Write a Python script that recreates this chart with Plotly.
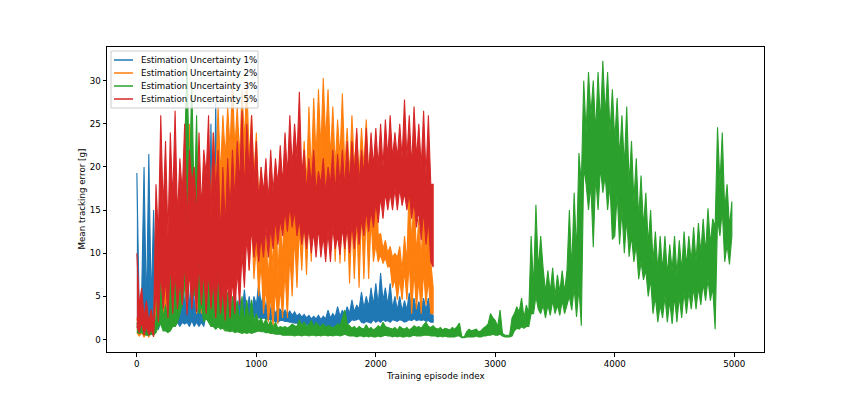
import plotly.graph_objects as go

# Training episodes are summarised in bins of 20 episodes: for every bin the
# lowest and highest mean tracking error.
BIN = 20
bins_2500 = list(range(0, 2500, BIN))
bins_5000 = list(range(0, 5000, BIN))

series_names = ["Estimation Uncertainty 1%", "Estimation Uncertainty 2%",
                "Estimation Uncertainty 3%", "Estimation Uncertainty 5%"]
colors = ["#1f77b4", "#ff7f0e", "#2ca02c", "#d62728"]

# ---- 1 % ----
hi_1pct = [19.3, 3, 5, 20, 3, 21.5, 4, 15, 3, 8,
           3, 12, 3, 9, 3, 14, 3, 7, 3, 11,
           3, 9, 3, 11, 3, 8, 3, 13, 3, 9,
           4, 25, 6, 27.5, 5, 12, 4, 6, 3, 5,
           3, 5.8, 3, 5, 3, 5.8, 3, 5, 3, 5,
           4, 6.5, 4, 5.5, 3.5, 5, 3.3, 4, 3, 3.6,
           3.5, 3, 3.4, 2.9, 3.3, 2.8, 3.2, 2.7, 3, 2.6,
           2.9, 2.5, 2.8, 2.4, 2.7, 2.4, 2.8, 2.3, 2.7, 2.4,
           3.4, 2.5, 3, 2.6, 3.8, 2.7, 3.4, 2.8, 3.8, 3,
           4.6, 3.2, 4, 3.5, 5.5, 3.6, 5, 3.8, 6, 4,
           6.5, 4, 7.7, 4.5, 6, 4, 6.5, 3.6, 5, 3.4,
           5, 3.3, 4.5, 3.4, 5.4, 3.5, 4.8, 3.4, 4.4, 3.5,
           4.8, 3.4, 4.8, 3, 2.8]
lo_1pct = [1.5, 1, 0.8, 1, 1.5, 2, 2, 1.5, 1.5, 1.2,
           2, 1.5, 2, 1.5, 1.8, 2.2, 1.5, 2, 1.5, 2,
           1.8, 2, 1.5, 2.2, 1.5, 2, 1.5, 2, 1.5, 3,
           2, 3, 4, 3, 2, 2, 1.8, 1.5, 1.5, 2,
           1.6, 2, 1.8, 2, 1.8, 2, 1.8, 2, 2, 2.5,
           3, 2.5, 2.4, 2.5, 2.4, 2.3, 2.3, 2.2, 2.1, 2,
           2.2, 2.2, 2.1, 2.1, 2, 2, 1.9, 1.9, 1.8, 1.8,
           1.7, 1.7, 1.6, 1.6, 1.5, 1.5, 1.5, 1.4, 1.4, 1.4,
           1.4, 1.5, 1.4, 1.5, 1.6, 1.5, 1.6, 1.5, 1.8, 2,
           2.3, 2.2, 2.3, 2.4, 2, 1.9, 2.1, 2, 1.9, 2.3,
           2, 2.2, 2, 2.3, 2.1, 2.2, 2, 2.3, 2.2, 2.1,
           2.3, 2.2, 2, 2.1, 2.3, 2.2, 2.4, 2.2, 2.3, 2.2,
           2.3, 2.1, 2.2, 2, 2]

# ---- 2 % ----
hi_2pct = [2.5, 1.2, 2.5, 1, 2, 0.8, 2.5, 1, 12, 6,
           16, 8, 14, 7, 18, 9, 13.5, 8, 20, 10,
           17, 9, 25, 11, 15, 9, 19, 10, 14, 11,
           21, 15, 24, 18, 27, 19, 26, 21, 27, 22,
           30, 22, 27, 21, 29, 23, 30, 21, 26, 19,
           24, 16, 20, 10, 12, 7, 13, 8, 20, 7,
           14, 9, 21, 12, 23, 14, 22, 16, 25, 17,
           23, 18, 27, 19, 28, 21, 29, 22, 30.3, 23,
           29, 21, 27, 20, 25.5, 21, 28.5, 20, 24.5, 19,
           26, 20, 24, 19, 24.5, 20, 25.5, 19, 22, 17,
           20, 12, 12.3, 10.5, 11.5, 10, 10.8, 9.5, 10, 9.5,
           10.8, 8, 12, 9, 18.5, 11, 17, 10, 14, 9,
           17, 10, 18, 9, 6]
lo_2pct = [0.8, 0.4, 0.8, 0.3, 0.7, 0.3, 0.8, 0.5, 4, 1.5,
           6, 2, 5, 2, 7, 3, 6, 3, 8, 4,
           7, 3.5, 9, 5, 7, 3, 6, 3, 8, 5,
           11, 7, 13, 9, 14, 9, 16, 11, 15, 10,
           17, 10, 16, 9.5, 17, 11, 16, 8, 14, 7,
           11, 5, 9, 3, 6, 2, 5, 1.5, 6, 1.8,
           6, 2.5, 8, 2.5, 10, 5, 12, 6, 13, 8,
           14, 7.5, 15, 9, 17, 11, 18, 12, 19, 13,
           18, 12, 17, 9, 16, 8.8, 16, 9, 15, 6.5,
           14, 7, 14, 6, 15, 7, 15, 7, 14, 9,
           11, 9, 9.8, 8.8, 9.5, 8.4, 8.5, 6, 7, 4.6,
           7, 4.6, 8, 4.6, 9, 3, 8, 3.5, 7, 3,
           8, 4, 7, 3, 3]

# ---- 3 % ----
hi_3pct = [1.9, 1.2, 1.9, 1.1, 1.2, 2.5, 1.2, 3, 1.5, 7.7,
           6, 2.5, 4, 2, 7.5, 3, 7, 4, 10, 15,
           22, 32, 18, 30, 15, 26, 10, 15, 6, 9,
           12, 4, 6, 3, 8, 3, 5.5, 2.5, 5.5, 2.5,
           5, 2.5, 4.5, 2, 5, 2, 4.6, 2, 4.6, 2,
           3, 2, 2.5, 1.7, 2.4, 1.6, 2.2, 1.4, 2, 1.3,
           1.5, 1.4, 1.5, 1.3, 1.5, 1.8, 1.6, 1.5, 2.3, 1.6,
           2, 1.5, 1.7, 2.2, 1.4, 2, 1.6, 1.5, 1.8, 1.4,
           1.6, 1.5, 1.3, 1.5, 1.8, 1.6, 2.4, 3.4, 1.8, 1.6,
           1.3, 1.5, 1.2, 1.5, 1.3, 1.2, 1.7, 1.2, 1.4, 1.1,
           1.3, 1.6, 1.4, 2, 1.5, 1.4, 1.3, 1.2, 1.4, 1.1,
           1.5, 1.3, 1.2, 1.4, 1.1, 1.3, 1.6, 1.4, 1.5, 1.3,
           1.7, 2, 1.5, 1.4, 1.6, 1.3, 1.2, 1.4, 1.1, 1.3,
           1.2, 1.1, 1.4, 1.2, 1.5, 1.9, 0.3, 0.3, 0.9, 1.2,
           1, 1.1, 1.2, 0.9, 1, 1.3, 1.5, 1.8, 3, 2.5,
           2.2, 1.5, 3.4, 0.7, 0.5, 0.5, 0.5, 2.5, 3, 3.8,
           3.2, 4.8, 2.5, 4, 3, 12, 6, 15.6, 8, 12,
           8.3, 5.5, 8, 5.5, 8.3, 5, 7.5, 5.5, 8, 5.5,
           8, 15, 8, 17, 10, 21.6, 18, 30, 24, 31,
           26, 30, 24, 31, 25, 32.3, 26, 31, 24, 29,
           23, 28, 21, 26, 20, 27, 18, 23, 16, 21,
           14, 19, 13, 17, 11, 15, 9, 12.5, 8, 12,
           8, 12, 7.5, 11, 8, 12, 7.5, 11.5, 8, 12.5,
           8.5, 12, 9, 13, 9, 13.5, 10, 14, 10, 15.2,
           11, 14, 13, 24.6, 18, 24, 15, 18, 13, 16]
lo_3pct = [0.8, 0.7, 0.8, 0.6, 0.5, 0.5, 0.6, 0.5, 0.8, 1.5,
           1.8, 1, 1, 0.8, 1, 1.5, 1.5, 2, 3, 4,
           6, 12, 8, 10, 5, 8, 3, 4, 2, 2.5,
           2, 1.5, 1.5, 1.2, 1.5, 1.2, 1.3, 1, 1, 0.9,
           1, 0.8, 0.9, 0.8, 0.7, 0.8, 0.7, 0.8, 0.7, 0.8,
           0.9, 1, 0.9, 0.9, 0.8, 0.8, 0.7, 0.7, 0.6, 0.6,
           0.6, 0.5, 0.5, 0.5, 0.5, 0.5, 0.4, 0.5, 0.5, 0.4,
           0.5, 0.5, 0.4, 0.5, 0.5, 0.4, 0.5, 0.4, 0.5, 0.5,
           0.4, 0.5, 0.4, 0.5, 0.5, 0.4, 0.5, 0.6, 0.5, 0.4,
           0.4, 0.4, 0.3, 0.4, 0.4, 0.3, 0.4, 0.3, 0.4, 0.3,
           0.3, 0.4, 0.3, 0.4, 0.5, 0.4, 0.4, 0.3, 0.4, 0.3,
           0.4, 0.3, 0.3, 0.4, 0.3, 0.4, 0.5, 0.4, 0.4, 0.4,
           0.5, 0.5, 0.5, 0.4, 0.4, 0.4, 0.3, 0.4, 0.3, 0.4,
           0.3, 0.3, 0.3, 0.3, 0.4, 0.4, 0.2, 0.2, 0.3, 0.3,
           0.3, 0.3, 0.4, 0.3, 0.3, 0.4, 0.4, 0.5, 0.5, 0.6,
           0.5, 0.5, 0.6, 0.4, 0.3, 0.3, 0.3, 0.4, 1, 1.3,
           1.2, 1.5, 1.3, 1.5, 1.5, 3, 3, 5, 3.5, 3,
           4, 2.5, 4, 2.8, 4.5, 3, 4, 2.8, 4.5, 3,
           4, 5, 3.4, 6, 2.6, 6, 1.6, 20, 18, 15,
           18, 10.7, 19, 15, 20, 17, 19, 15, 18, 11.6,
           12, 17, 11, 15, 10, 14, 9.6, 12, 9, 11,
           7, 9, 6.9, 8, 5, 7, 3, 5, 2, 4,
           2.5, 5, 2, 4.5, 1.8, 5, 2, 5, 2.5, 5.5,
           3, 5.5, 3.5, 6, 3.5, 6, 4, 6.5, 4.5, 7,
           4.5, 6, 1.2, 14, 12, 15, 9, 11, 8.7, 12]

# ---- 5 % ----
hi_5pct = [10, 4, 6, 2.5, 4.5, 2, 3.5, 1.5, 18, 12,
           26, 15, 23, 12, 24, 16, 26.5, 14, 21, 17,
           25, 13, 22, 18, 20, 14, 24, 15, 22, 19,
           26, 14, 24, 17, 22, 12, 20, 13, 21, 15,
           22, 16, 23, 18, 26.5, 17, 25, 19, 26, 18,
           23, 16, 20, 17, 21, 16, 22, 17, 21, 18,
           22.5, 18, 24, 19, 26, 20, 25, 21, 28.7, 19,
           22, 17, 21, 18, 22, 17, 19.5, 18, 21, 17,
           20, 18, 22, 17, 21.5, 18, 22, 17.5, 23, 18,
           23, 19, 24.5, 18, 22, 19, 24.5, 19, 24, 20,
           24.5, 20, 25, 20, 25.5, 21, 26, 21, 24, 21,
           25, 21, 27.8, 21, 26, 20, 27, 21, 25, 20,
           26.5, 19, 26, 18, 18]
lo_5pct = [1.5, 0.8, 2, 0.5, 1.5, 0.5, 1.2, 0.3, 6, 2,
           8, 3.5, 7, 2.5, 9, 3, 8, 3.5, 7, 4,
           9, 2.8, 8, 3.5, 7, 3.2, 9, 4, 8, 3,
           8, 3.5, 7, 2.5, 8, 3, 6, 2.2, 7, 2.5,
           7, 3, 8, 4, 10, 6, 12, 8, 13, 9.5,
           12, 9, 12, 9.5, 13, 9.5, 13, 10.5, 14, 11,
           14, 12, 15, 12.5, 15.5, 13, 15, 12, 14, 11,
           13, 10.5, 13, 10, 12.5, 9.5, 13, 9.5, 12, 9,
           12.5, 9, 13, 10.5, 12, 9.8, 13, 10.5, 13, 10,
           13.5, 10.5, 14, 11, 14, 12, 15, 12.5, 15, 13,
           16, 13.5, 16.5, 14, 17, 15, 17, 15, 17.5, 15,
           17.5, 15.5, 17, 15, 17, 14, 16, 13, 15, 11.5,
           15, 11, 14, 9, 8.4]

x_ticks = [0, 1000, 2000, 3000, 4000, 5000]
y_ticks = [0, 5, 10, 15, 20, 25, 30]

for b, h, l in [(bins_2500, hi_1pct, lo_1pct), (bins_2500, hi_2pct, lo_2pct),
                (bins_5000, hi_3pct, lo_3pct), (bins_2500, hi_5pct, lo_5pct)]:
    assert len(b) == len(h) == len(l), (len(b), len(h), len(l))


FONT = "DejaVu Sans"
FS = 8.7

fig = go.Figure()
data = [(bins_2500, hi_1pct, lo_1pct), (bins_2500, hi_2pct, lo_2pct),
        (bins_5000, hi_3pct, lo_3pct), (bins_2500, hi_5pct, lo_5pct)]
for (b, h, l), name, c in zip(data, series_names, colors):
    # The dense, noisy training curve fills the band between the per-bin
    # minimum and maximum; draw it as that band with its ragged outline.
    xs = list(b) + list(b)[::-1]
    ys = list(h) + list(l)[::-1]
    fig.add_trace(go.Scatter(x=xs, y=ys, mode="lines", name=name,
                             fill="toself", fillcolor=c,
                             line=dict(color=c, width=1.1, simplify=False),
                             showlegend=False, hoverinfo="skip"))

axis_common = dict(showline=True, mirror=True, linecolor="black", linewidth=1,
                   ticks="outside", ticklen=3.5, tickwidth=1, tickcolor="black",
                   showgrid=False, zeroline=False,
                   tickfont=dict(family=FONT, size=FS, color="black"))
fig.update_xaxes(range=[-250, 5249], tickvals=x_ticks, **axis_common)
fig.update_yaxes(range=[-1.45, 33.9], tickvals=y_ticks, **axis_common)

# Plot area in page pixels: x 107..764, y 47..352
px_w, px_h = 657.0, 305.0
def px(x):
    return (x - 107) / px_w
def py(y):
    return (352 - y) / px_h

shapes = [dict(type="rect", xref="paper", yref="paper",
               x0=px(111), x1=px(258), y0=py(108), y1=py(51),
               line=dict(color="#cccccc", width=1),
               fillcolor="rgba(255,255,255,0.8)", layer="above")]
annotations = []
rows = [60, 73, 86, 99]
for name, c, ry in zip(series_names, colors, rows):
    shapes.append(dict(type="line", xref="paper", yref="paper",
                       x0=px(114), x1=px(133), y0=py(ry), y1=py(ry),
                       line=dict(color=c, width=1.5), layer="above"))
    annotations.append(dict(text=name, xref="paper", yref="paper",
                            x=px(139), y=py(ry), xanchor="left", yanchor="middle",
                            showarrow=False,
                            font=dict(family=FONT, size=FS, color="black")))

annotations.append(dict(text="Training episode index", xref="paper", yref="paper",
                        x=0.5, y=py(376), xanchor="center", yanchor="middle",
                        showarrow=False, font=dict(family=FONT, size=FS, color="black")))
annotations.append(dict(text="Mean tracking error [g]", xref="paper", yref="paper",
                        x=px(81), y=0.5, xanchor="center", yanchor="middle",
                        textangle=-90, showarrow=False,
                        font=dict(family=FONT, size=FS, color="black")))

# The page body adds an 8 px margin, so the figure is 8 px smaller.
fig.update_layout(width=842, height=388,
                  margin=dict(l=99, r=86, t=39, b=44),
                  paper_bgcolor="white", plot_bgcolor="white",
                  shapes=shapes, annotations=annotations,
                  showlegend=False)

fig.write_html("out.html")
